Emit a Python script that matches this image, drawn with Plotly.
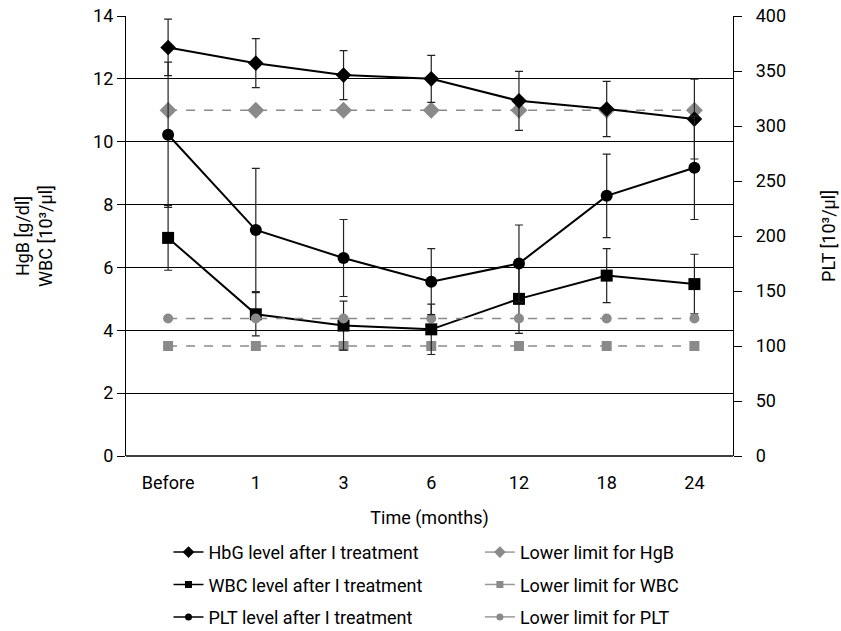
import plotly.graph_objects as go

categories = ["Before", "1", "3", "6", "12", "18", "24"]
hgb = [13.0, 12.5, 12.12, 12.0, 11.3, 11.04, 10.72]
hgb_err = [0.9, 0.78, 0.78, 0.75, 0.94, 0.88, 1.27]
wbc = [6.94, 4.51, 4.15, 4.03, 5.0, 5.74, 5.47]
wbc_err = [1.03, 0.69, 0.78, 0.8, 1.1, 0.86, 0.95]
plt_vals = [292, 205.5, 180, 158.5, 175, 236.5, 262]
plt_err = [66, 56, 35, 30, 35, 38, 47]
hgb_lower = [11] * 7
wbc_lower = [3.5] * 7
plt_lower = [125] * 7

left_ticks = [0, 2, 4, 6, 8, 10, 12, 14]
right_ticks = [0, 50, 100, 150, 200, 250, 300, 350, 400]

xs = list(range(len(categories)))
FONT = "Roboto, Liberation Sans, Arial, sans-serif"
FS = 18
GRAY = "#8a8a8a"

fig = go.Figure()


def err(arr):
    return dict(type="data", array=arr, visible=True, color="#222222", thickness=1.2, width=4)


series = [
    # name, y, err, symbol, size, color, dash, axis, legend
    ("Lower limit for HgB", hgb_lower, None, "diamond", 13, GRAY, "dash", "y", "legend2"),
    ("Lower limit for WBC", wbc_lower, None, "square", 10, GRAY, "dash", "y", "legend2"),
    ("Lower limit for PLT", plt_lower, None, "circle", 10, GRAY, "dash", "y2", "legend2"),
    ("HbG level after I treatment", hgb, hgb_err, "diamond", 12, "black", "solid", "y", "legend"),
    ("WBC level after I treatment", wbc, wbc_err, "square", 12, "black", "solid", "y", "legend"),
    ("PLT level after I treatment", plt_vals, plt_err, "circle", 12, "black", "solid", "y2", "legend"),
]

for name, y, e, sym, size, col, dash, ax, lg in series:
    fig.add_trace(go.Scatter(
        x=xs, y=y, mode="lines+markers", showlegend=False, yaxis=ax,
        line=dict(color=col, width=1.5 if dash == "dash" else 2, dash=dash),
        marker=dict(symbol=sym, size=size, color=col),
        error_y=err(e) if e is not None else None,
    ))

# legend entries (small markers, as in the original key)
legend_order = [3, 4, 5, 0, 1, 2]
for i, idx in enumerate(legend_order):
    name, y, e, sym, size, col, dash, ax, lg = series[idx]
    fig.add_trace(go.Scatter(
        x=[None], y=[None], mode="lines+markers", name=name, legend=lg,
        legendgroup="g%d" % i, yaxis=ax,
        line=dict(color=col if col == "black" else "#9a9a9a", width=1.5),
        marker=dict(symbol=sym, size=9 if sym == "diamond" else 7, color=col),
    ))

legend_common = dict(orientation="v", yanchor="top", xanchor="left", y=-0.177,
                     font=dict(family=FONT, size=FS, color="black"),
                     tracegroupgap=6, bgcolor="rgba(0,0,0,0)", traceorder="grouped")

fig.update_layout(
    width=841, height=631,
    margin=dict(l=126, r=108, t=16, b=175, autoexpand=False),
    paper_bgcolor="white", plot_bgcolor="white",
    font=dict(family=FONT, size=FS, color="black"),
    xaxis=dict(range=[-0.48, 6.44], tickvals=xs, ticktext=categories, showgrid=False,
               zeroline=False, showline=False, ticks="", ticklabelstandoff=14,
               title=dict(text="Time (months)", standoff=19, font=dict(size=FS))),
    yaxis=dict(range=[0, 14], tickvals=left_ticks, showgrid=True, gridcolor="black", gridwidth=1.3,
               zeroline=False, showline=True, linecolor="black", linewidth=1.3,
               ticks="outside", ticklen=8, tickcolor="black", tickwidth=1.3,
               title=dict(text="HgB [g/dl]<br>WBC [10³/µl]", standoff=35, font=dict(size=FS))),
    yaxis2=dict(range=[0, 400], tickvals=right_ticks, overlaying="y", side="right", showgrid=False,
                zeroline=False, showline=True, linecolor="black", linewidth=1.3,
                ticks="outside", ticklen=8, tickcolor="black", tickwidth=1.3, ticklabelstandoff=10,
                title=dict(text="PLT [10³/µl]", standoff=37, font=dict(size=FS))),
    legend=dict(x=0.07, **legend_common),
    legend2=dict(x=0.583, **legend_common),
    showlegend=True,
)

fig.add_shape(type="line", xref="paper", yref="paper", x0=0, x1=1, y0=0, y1=0,
              line=dict(color="black", width=1.3))

fig.write_html("out.html", config={"displayModeBar": False},
               post_script="document.body.style.margin='0px';")
